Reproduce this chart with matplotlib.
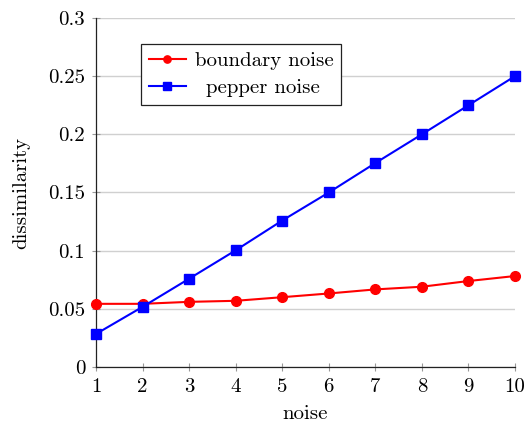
import matplotlib
matplotlib.use('Agg')
import matplotlib.pyplot as plt

# Data
noise = [1, 2, 3, 4, 5, 6, 7, 8, 9, 10]
boundary = [0.0543, 0.0543, 0.0560, 0.0569, 0.0600, 0.0632, 0.0667, 0.0690, 0.0739, 0.0782]
pepper = [0.0284, 0.0517, 0.0759, 0.1003, 0.1259, 0.1500, 0.1753, 0.2000, 0.2250, 0.2500]
yticks = [0, 0.05, 0.1, 0.15, 0.2, 0.25, 0.3]
yticklabels = ['0', '0.05', '0.1', '0.15', '0.2', '0.25', '0.3']

plt.rcParams['font.family'] = 'serif'
plt.rcParams['font.serif'] = ['cmr10', 'DejaVu Serif']
plt.rcParams['mathtext.fontset'] = 'cm'
plt.rcParams['axes.formatter.use_mathtext'] = True

fig = plt.figure(figsize=(5.26, 4.22), dpi=100)
ax = fig.add_axes([96 / 526, 55 / 422, 419 / 526, 349 / 422])

ax.plot(noise, boundary, color='#ff0000', linewidth=1.5, marker='o', markersize=7,
        label='boundary noise', zorder=3, clip_on=False)
ax.plot(noise, pepper, color='#0000ff', linewidth=1.5, marker='s', markersize=7,
        label='pepper noise', zorder=3, clip_on=False)

ax.set_xlim(1, 10)
ax.set_ylim(0, 0.3)
ax.set_xticks(noise)
ax.set_xticklabels([str(n) for n in noise])
ax.set_yticks(yticks)
ax.set_yticklabels(yticklabels)

ax.grid(True, axis='y', color='#d0d0d0', linewidth=1.0)
ax.set_axisbelow(True)

for s in ['top', 'right']:
    ax.spines[s].set_visible(False)
for s in ['left', 'bottom']:
    ax.spines[s].set_color('#222222')
    ax.spines[s].set_linewidth(0.9)

ax.tick_params(direction='inout', length=5.5, width=0.8, color='#999999', labelsize=15)
ax.tick_params(axis='x', pad=5.5)
ax.tick_params(axis='y', pad=5)

ax.set_xlabel('noise', fontsize=15, labelpad=6)
ax.set_ylabel('dissimilarity', fontsize=15, labelpad=13)

leg = ax.legend(loc='upper left', bbox_to_anchor=(0.107, 0.926), fontsize=15,
                frameon=True, fancybox=False, edgecolor='#222222', framealpha=1,
                handlelength=1.8, handletextpad=0.4, borderpad=0.38, labelspacing=0.4,
                borderaxespad=0, markerscale=0.75)
leg.get_frame().set_linewidth(0.9)
# centre the shorter label within the label column, as in the original
leg.get_texts()[1].set_position((11.5, 0))

fig.savefig('out.png', dpi=100)
